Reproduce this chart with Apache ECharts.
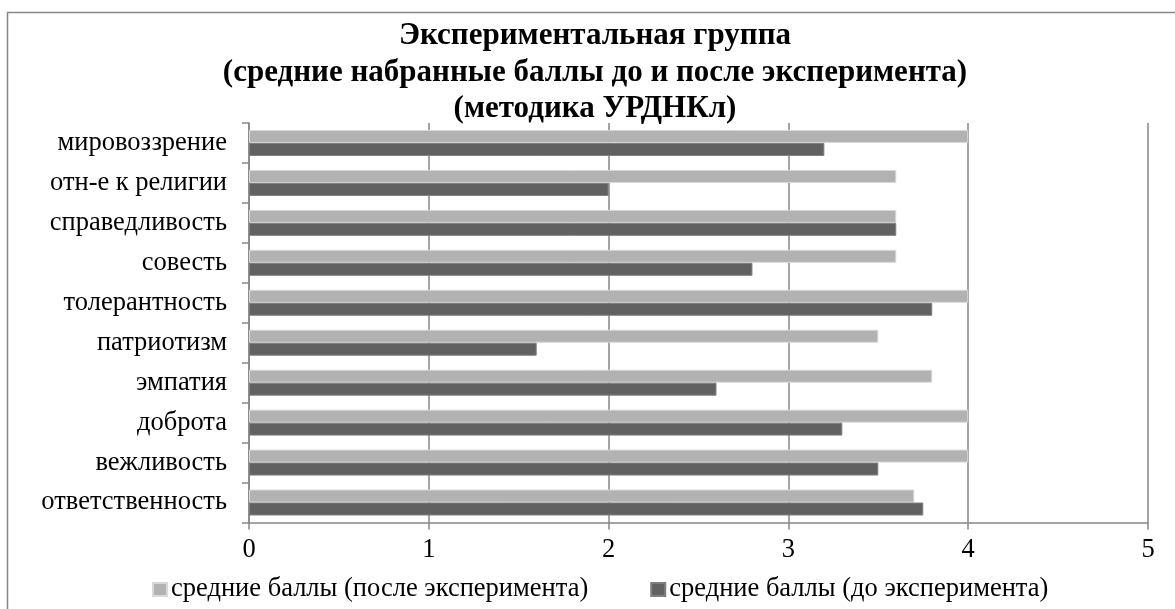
<!DOCTYPE html>
<html>
<head>
<meta charset="utf-8">
<script src="https://cdn.jsdelivr.net/npm/echarts@6/dist/echarts.min.js"></script>
<style>
html,body{margin:0;padding:0;background:#fff;}
#chart{width:1175px;height:609px;}
</style>
</head>
<body>
<div id="chart"></div>
<script>
const categories = ['мировоззрение','отн-е к религии','справедливость','совесть','толерантность','патриотизм','эмпатия','доброта','вежливость','ответственность'];
const afterValues = [4.0, 3.6, 3.6, 3.6, 4.0, 3.5, 3.8, 4.0, 4.0, 3.7];
const beforeValues = [3.2, 2.0, 3.6, 2.8, 3.8, 1.6, 2.6, 3.3, 3.5, 3.75];
const seriesNames = ['средние баллы (после эксперимента)', 'средние баллы (до эксперимента)'];
const xTicks = [0, 1, 2, 3, 4, 5];
const titleLines = ['Экспериментальная группа', '(средние набранные баллы до и после эксперимента)', '(методика УРДНКл)'];

const FONT = '"Liberation Serif", "Times New Roman", serif';
const GRAY = '#868686';
const chart = echarts.init(document.getElementById('chart'), null, {renderer: 'canvas'});
chart.setOption({
  animation: false,
  backgroundColor: '#ffffff',
  title: {
    text: titleLines.join('\n'),
    left: 590,
    top: 13,
    textAlign: 'center',
    textStyle: {fontFamily: FONT, fontWeight: 'bold', fontSize: 31, lineHeight: 36.5, color: '#000'}
  },
  graphic: [{
    type: 'polyline',
    shape: {points: [[7.5, 700], [7.5, 12.5], [1300, 12.5]]},
    style: {stroke: GRAY, lineWidth: 1.5, fill: null},
    silent: true
  }],
  legend: {
    left: 147,
    top: 571,
    itemWidth: 14,
    itemHeight: 13,
    itemGap: 62,
    icon: 'rect',
    data: seriesNames,
    textStyle: {fontFamily: FONT, fontSize: 26.5, color: '#000', padding: [0, 0, 0, -1]}
  },
  grid: {left: 249, right: 27, top: 123, bottom: 86.5, containLabel: false},
  xAxis: {
    type: 'value',
    min: xTicks[0],
    max: xTicks[xTicks.length - 1],
    interval: 1,
    axisLine: {show: true, lineStyle: {color: GRAY, width: 1.5}},
    axisTick: {show: true, length: 7, lineStyle: {color: GRAY, width: 1.5}},
    splitLine: {show: true, lineStyle: {color: GRAY, width: 1.5}},
    axisLabel: {fontFamily: FONT, fontSize: 26.5, color: '#000', margin: 14}
  },
  yAxis: {
    type: 'category',
    inverse: true,
    data: categories,
    axisLine: {show: true, lineStyle: {color: GRAY, width: 1.5}},
    axisTick: {show: true, length: 7, lineStyle: {color: GRAY, width: 1.5}},
    axisLabel: {fontFamily: FONT, fontSize: 26.5, color: '#000', margin: 22}
  },
  series: [
    {name: seriesNames[0], type: 'bar', data: afterValues, barGap: '0%', barCategoryGap: '35%',
     itemStyle: {color: '#b2b2b2', borderColor: '#d8d8d8', borderWidth: 1}},
    {name: seriesNames[1], type: 'bar', data: beforeValues, barGap: '0%', barCategoryGap: '35%',
     itemStyle: {color: '#616161', borderColor: '#7e7e7e', borderWidth: 1}}
  ]
});
</script>
</body>
</html>
